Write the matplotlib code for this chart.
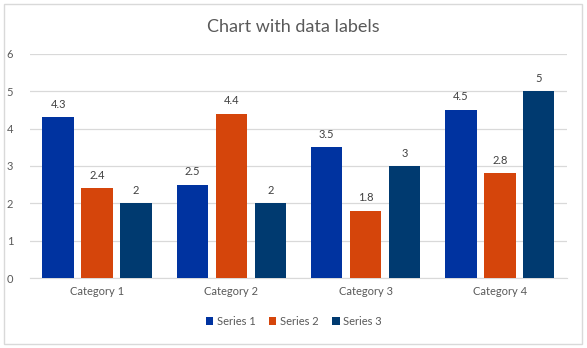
import numpy as np
import matplotlib
matplotlib.use('Agg')
import matplotlib.pyplot as plt
from matplotlib.patches import Rectangle

categories = ['Category 1', 'Category 2', 'Category 3', 'Category 4']
series_names = ['Series 1', 'Series 2', 'Series 3']
series_1 = [4.3, 2.5, 3.5, 4.5]
series_2 = [2.4, 4.4, 1.8, 2.8]
series_3 = [2, 2, 3, 5]
colors = ['#0033A0', '#D5450B', '#003A70']

plt.rcParams['font.family'] = ['Lato', 'DejaVu Sans']

fig = plt.figure(figsize=(5.87, 3.48), dpi=100)
ax = fig.add_axes([0.051, 0.201, 0.915, 0.644])

x = np.arange(len(categories))
width = 0.233
step = 0.29
for i, vals in enumerate([series_1, series_2, series_3]):
    pos = x + (i - 1) * step
    bars = ax.bar(pos, vals, width, color=colors[i], label=series_names[i], zorder=3)
    for b, v in zip(bars, vals):
        ax.text(b.get_x() + b.get_width() / 2, v + 0.2, f'{v:g}',
                ha='center', va='bottom', fontsize=8, color='#404040')

ax.set_xlim(-0.5, 3.5)
ax.set_ylim(0, 6)
ax.set_yticks(range(7))
ax.set_xticks(x)
ax.set_xticklabels(categories)
ax.yaxis.grid(True, color='#D9D9D9', linewidth=0.9, zorder=0)
for s in ['top', 'right', 'left']:
    ax.spines[s].set_visible(False)
ax.spines['bottom'].set_color('#D9D9D9')
ax.tick_params(axis='both', length=0, labelsize=8, colors='#595959')
ax.tick_params(axis='y', pad=12)
ax.tick_params(axis='x', pad=6)

fig.text(0.5, 0.922, 'Chart with data labels', ha='center', va='center',
         fontsize=13, color='#595959')

leg = fig.legend(loc='center', bbox_to_anchor=(0.5, 0.077), ncol=3, frameon=False,
                 fontsize=8, handlelength=0.7, handleheight=0.7,
                 handletextpad=0.3, columnspacing=1.2)
for t in leg.get_texts():
    t.set_color('#595959')

fig.patches.append(Rectangle((0.006, 0.012), 0.986, 0.976, transform=fig.transFigure,
                             fill=False, edgecolor='#D9D9D9', linewidth=1))

fig.savefig('out.png', dpi=100)
